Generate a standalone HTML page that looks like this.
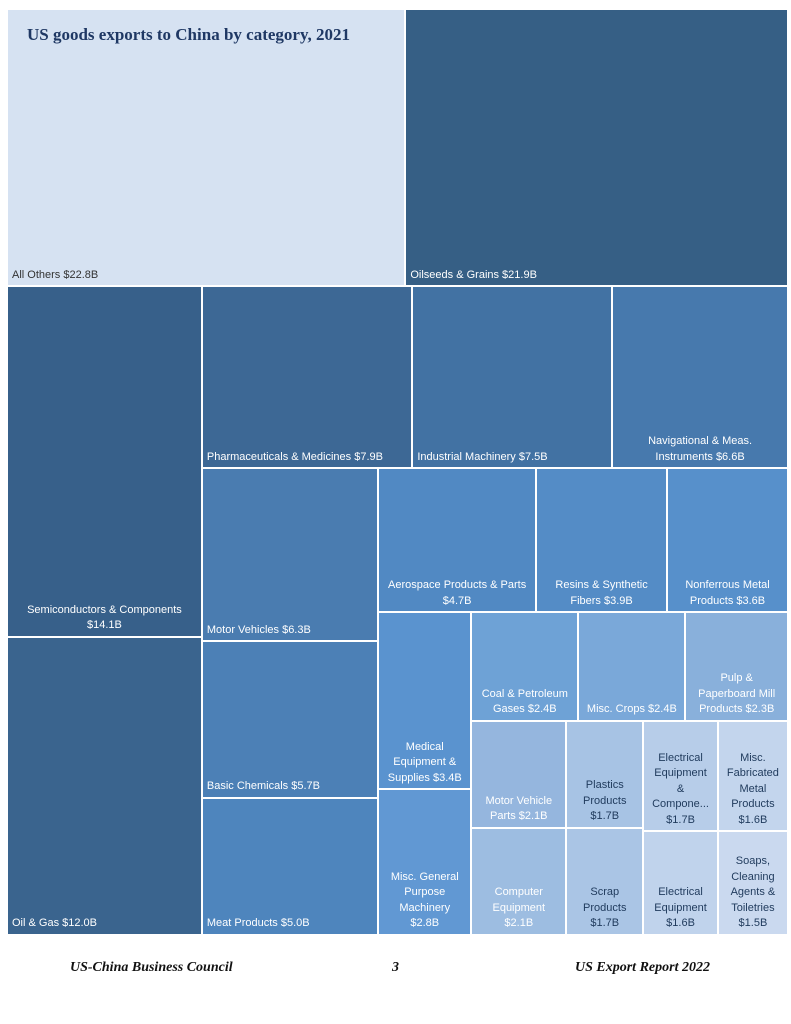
<!DOCTYPE html>
<html><head><meta charset="utf-8"><style>
body{margin:0;width:791px;height:1024px;background:#fff;position:relative;overflow:hidden;font-family:"Liberation Sans",sans-serif}
#chart{position:absolute;left:0;top:0;width:791px;height:960px}
.cell{position:absolute;box-sizing:border-box;border:1px solid #fff}
.lbl{position:absolute;left:4px;right:4px;bottom:2px;font-size:11px;line-height:15.5px}
.title{position:absolute;left:27px;top:25px;font-family:"Liberation Serif",serif;font-weight:bold;font-size:17px;color:#1f3864;z-index:2}
.foot{position:absolute;top:960px;font-family:"Liberation Serif",serif;font-style:italic;font-weight:bold;font-size:14px;color:#111}
</style></head><body>
<div id="chart"></div>
<div class="title">US goods exports to China by category, 2021</div>
<div class="foot" style="left:70px">US-China Business Council</div>
<div class="foot" style="left:392px">3</div>
<div class="foot" style="left:575px">US Export Report 2022</div>
<script>
const categories=["All Others","Oilseeds & Grains","Semiconductors & Components","Oil & Gas","Pharmaceuticals & Medicines","Industrial Machinery","Navigational & Meas. Instruments","Motor Vehicles","Basic Chemicals","Meat Products","Aerospace Products & Parts","Resins & Synthetic Fibers","Nonferrous Metal Products","Medical Equipment & Supplies","Misc. General Purpose Machinery","Coal & Petroleum Gases","Misc. Crops","Pulp & Paperboard Mill Products","Motor Vehicle Parts","Computer Equipment","Plastics Products","Scrap Products","Electrical Equipment & Compone...","Electrical Equipment","Misc. Fabricated Metal Products","Soaps, Cleaning Agents & Toiletries"];
const values=[22.8,21.9,14.1,12.0,7.9,7.5,6.6,6.3,5.7,5.0,4.7,3.9,3.6,3.4,2.8,2.4,2.4,2.3,2.1,2.1,1.7,1.7,1.7,1.6,1.6,1.5];
const valueLabels=["$22.8B","$21.9B","$14.1B","$12.0B","$7.9B","$7.5B","$6.6B","$6.3B","$5.7B","$5.0B","$4.7B","$3.9B","$3.6B","$3.4B","$2.8B","$2.4B","$2.4B","$2.3B","$2.1B","$2.1B","$1.7B","$1.7B","$1.7B","$1.6B","$1.6B","$1.5B"];
const fills=["#d6e2f2","#365f85","#37608a","#3a648e","#3d6895","#4272a3","#4779ad","#4a7cb0","#4c80b6","#4e85bd","#5189c3","#548cc6","#5790cb","#5a93cf","#6198d3","#6ea2d6","#7aa8d9","#89b0db","#95b6de","#9dbde1","#a7c3e4","#aac5e5","#b7cde9","#c0d3ec","#c3d5ed","#cad9ef"];
const lines=[["All Others  $22.8B"],["Oilseeds & Grains  $21.9B"],["Semiconductors & Components","$14.1B"],["Oil & Gas  $12.0B"],["Pharmaceuticals & Medicines  $7.9B"],["Industrial Machinery  $7.5B"],["Navigational & Meas.","Instruments  $6.6B"],["Motor Vehicles  $6.3B"],["Basic Chemicals  $5.7B"],["Meat Products  $5.0B"],["Aerospace Products & Parts","$4.7B"],["Resins & Synthetic","Fibers  $3.9B"],["Nonferrous Metal","Products  $3.6B"],["Medical","Equipment &","Supplies  $3.4B"],["Misc. General","Purpose","Machinery","$2.8B"],["Coal & Petroleum","Gases  $2.4B"],["Misc. Crops  $2.4B"],["Pulp &","Paperboard Mill","Products  $2.3B"],["Motor Vehicle","Parts  $2.1B"],["Computer","Equipment","$2.1B"],["Plastics","Products","$1.7B"],["Scrap","Products","$1.7B"],["Electrical","Equipment","&","Compone...","$1.7B"],["Electrical","Equipment","$1.6B"],["Misc.","Fabricated","Metal","Products","$1.6B"],["Soaps,","Cleaning","Agents &","Toiletries","$1.5B"]];
const leftAlign=[0,1,3,4,5,7,8,9];
const tree={d:'v',c:[{d:'h',c:[0,1]},{d:'h',c:[{d:'v',c:[2,3]},{d:'v',c:[{d:'h',c:[4,5,6]},{d:'h',c:[{d:'v',c:[7,8,9]},{d:'v',c:[{d:'h',c:[10,11,12]},{d:'h',c:[{d:'v',c:[13,14]},{d:'v',c:[{d:'h',c:[15,16,17]},{d:'h',c:[{d:'v',c:[18,19]},{d:'v',c:[20,21]},{d:'v',c:[22,23]},{d:'v',c:[24,25]}]}]}]}]}]}]}]}]};
function total(n){return typeof n==='number'?values[n]:n.c.reduce((s,k)=>s+total(k),0);}
const chart=document.getElementById('chart');
function place(n,x,y,w,h){
  if(typeof n==='number'){draw(n,x,y,w,h);return;}
  const t=total(n);let off=0;
  n.c.forEach(k=>{const f=total(k)/t;
    if(n.d==='h'){place(k,x+off,y,w*f,h);off+=w*f;}else{place(k,x,y+off,w,h*f);off+=h*f;}});
}
function draw(i,x,y,w,h){
  const d=document.createElement('div');d.className='cell';
  
  
  d.style.left=x+'px';d.style.top=y+'px';d.style.width=w+'px';d.style.height=h+'px';d.style.background=fills[i];
  const l=document.createElement('div');l.className='lbl';
  
  
  l.style.textAlign=leftAlign.includes(i)?'left':'center';
  l.style.color=i===0?'#333':(i>=20?'#1f3a5c':'#fff');
  l.innerHTML=lines[i].join('<br>');
  d.appendChild(l);chart.appendChild(d);
}
place(tree,7,9,781,926);
</script>
</body></html>
